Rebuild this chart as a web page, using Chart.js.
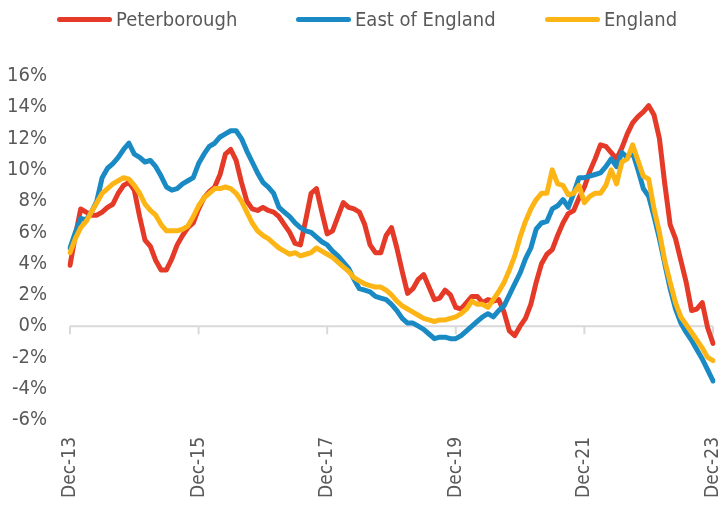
<!DOCTYPE html>
<html>
<head>
<meta charset="utf-8">
<script src="https://cdn.jsdelivr.net/npm/chart.js@4.4.1/dist/chart.umd.min.js"></script>
<style>
  html, body { margin: 0; padding: 0; background: #fff; }
  #wrap { position: relative; width: 723px; height: 506px; }
  #hpiChart { position: absolute; left: 0; top: 0; }
  .key { position: absolute; top: 6px; height: 26px; display: flex; align-items: center;
         font: 20px 'DejaVu Sans Condensed', 'DejaVu Sans', sans-serif; color: #595959; }
  .key i { display: inline-block; width: 55px; height: 5px; border-radius: 3px; margin-right: 4px; }
</style>
</head>
<body>
<div id="wrap">
  <canvas id="hpiChart"></canvas>
  <div id="legend"></div>
</div>
<script>
// ---------------------------
// DATA (annual % change, monthly, Dec-13 .. Dec-23)
// ---------------------------
const monthNames = ["Jan","Feb","Mar","Apr","May","Jun","Jul","Aug","Sep","Oct","Nov","Dec"];
const firstYear = 13;
const lastYear = 23;

const tickLabels = ["Dec-13", "Dec-15", "Dec-17", "Dec-19", "Dec-21", "Dec-23"];

const seriesNames = ["Peterborough", "East of England", "England"];
const seriesColors = ["#E63A28", "#1A8AC4", "#FDB516"];

const peterborough = [
  3.9, 5.8, 7.5, 7.3, 7.1, 7.1, 7.3, 7.6, 7.8, 8.5, 9.0, 9.2,
  8.7, 7.0, 5.5, 5.1, 4.2, 3.6, 3.6, 4.3, 5.2, 5.8, 6.3, 6.6,
  7.5, 8.2, 8.6, 8.9, 9.7, 11.0, 11.3, 10.6, 9.2, 8.0, 7.5, 7.4,
  7.6, 7.4, 7.3, 7.0, 6.5, 6.0, 5.3, 5.2, 6.8, 8.5, 8.8, 7.3,
  5.9, 6.1, 7.0, 7.9, 7.6, 7.5, 7.3, 6.5, 5.2, 4.7, 4.7, 5.8,
  6.3, 5.0, 3.5, 2.1, 2.4, 3.0, 3.3, 2.5, 1.7, 1.8, 2.3, 2.0,
  1.2, 1.1, 1.5, 1.9, 1.9, 1.5, 1.7, 1.6, 1.7, 0.9, -0.3, -0.6,
  0.0, 0.5, 1.4, 2.8, 4.0, 4.6, 4.9, 5.8, 6.6, 7.2, 7.4, 8.2,
  8.9, 9.9, 10.7, 11.6, 11.5, 11.1, 10.7, 11.4, 12.3, 13.0, 13.4, 13.7,
  14.1, 13.5, 12.0, 9.1, 6.5, 5.6, 4.2, 2.8, 1.0, 1.1, 1.5, -0.1,
  -1.1
];

const eastOfEngland = [
  5.0, 6.0, 6.9, 6.8, 7.3, 8.0, 9.5, 10.1, 10.4, 10.8, 11.3, 11.7,
  11.0, 10.8, 10.5, 10.6, 10.2, 9.6, 8.9, 8.7, 8.8, 9.1, 9.3, 9.5,
  10.4, 11.0, 11.5, 11.7, 12.1, 12.3, 12.5, 12.5, 12.0, 11.2, 10.5, 9.8,
  9.2, 8.9, 8.5, 7.6, 7.3, 7.0, 6.6, 6.3, 6.1, 6.0, 5.7, 5.4,
  5.2, 4.8, 4.5, 4.1, 3.7, 3.0, 2.4, 2.3, 2.2, 1.9, 1.8, 1.7,
  1.4, 1.0, 0.5, 0.2, 0.2, 0.0, -0.2, -0.5, -0.8, -0.7, -0.7, -0.8,
  -0.8, -0.6, -0.3, 0.0, 0.3, 0.6, 0.8, 0.6, 1.0, 1.3, 2.0, 2.7,
  3.4, 4.3, 5.0, 6.2, 6.6, 6.7, 7.5, 7.7, 8.1, 7.6, 8.5, 9.5,
  9.5, 9.6, 9.7, 9.8, 10.2, 10.7, 10.2, 11.1, 10.8, 11.1, 10.0, 8.8,
  8.3, 7.0, 5.6, 4.0, 2.4, 1.1, 0.2, -0.4, -0.9, -1.5, -2.1, -2.8,
  -3.5
];

const england = [
  4.7, 5.6, 6.3, 6.7, 7.3, 7.9, 8.5, 8.8, 9.1, 9.3, 9.5, 9.4,
  9.0, 8.5, 7.8, 7.4, 7.1, 6.5, 6.1, 6.1, 6.1, 6.2, 6.4, 7.0,
  7.7, 8.2, 8.5, 8.8, 8.8, 8.9, 8.8, 8.5, 8.0, 7.3, 6.6, 6.1,
  5.8, 5.6, 5.3, 5.0, 4.8, 4.6, 4.7, 4.5, 4.6, 4.7, 5.0, 4.8,
  4.6, 4.4, 4.1, 3.8, 3.5, 3.1, 2.9, 2.7, 2.6, 2.5, 2.5, 2.3,
  2.0, 1.6, 1.3, 1.1, 0.9, 0.7, 0.5, 0.4, 0.3, 0.4, 0.4, 0.5,
  0.6, 0.8, 1.1, 1.6, 1.4, 1.4, 1.2, 1.7, 2.2, 2.8, 3.6, 4.5,
  5.7, 6.7, 7.5, 8.1, 8.5, 8.5, 10.0, 9.1, 9.0, 8.4, 8.5, 9.0,
  7.9, 8.3, 8.5, 8.5, 9.0, 10.0, 9.1, 10.5, 10.7, 11.6, 10.6, 9.6,
  9.4, 7.5, 6.0, 4.2, 2.8, 1.5, 0.6, 0.1, -0.4, -0.9, -1.4, -2.0,
  -2.2
];

// month labels Dec-13 .. Dec-23
let months = [];
for (let yr = firstYear; yr <= lastYear; yr++) {
  monthNames.forEach((m, k) => {
    if (yr === firstYear && k < 11) return;
    months.push(m + "-" + yr);
  });
}
months = months.slice(0, months.indexOf("Dec-" + lastYear) + 1);

const FONT = "'DejaVu Sans Condensed', 'DejaVu Sans', sans-serif";
const GREY = "#595959";

// ---------------------------
// LEGEND (html, above the plot)
// ---------------------------
const legendLeft = [57, 296, 545];
seriesNames.forEach((name, k) => {
  let el = document.createElement("div");
  el.className = "key";
  el.style.left = legendLeft[k] + "px";
  el.innerHTML = '<i style="background:' + seriesColors[k] + '"></i>' + name;
  document.getElementById("legend").appendChild(el);
});

// zero line with small tick marks (Excel style axis crossing at 0)
const zeroAxis = {
  id: "zeroAxis",
  beforeDatasetsDraw(chart) {
    const { ctx, chartArea, scales: { x, y } } = chart;
    const y0 = y.getPixelForValue(0);
    ctx.save();
    ctx.strokeStyle = "#D9D9D9";
    ctx.lineWidth = 2;
    ctx.beginPath();
    ctx.moveTo(chartArea.left, y0);
    ctx.lineTo(chartArea.right, y0);
    tickLabels.forEach(lbl => {
      const px = x.getPixelForValue(months.indexOf(lbl));
      ctx.moveTo(px, y0);
      ctx.lineTo(px, y0 + 8);
    });
    ctx.stroke();
    ctx.restore();
  }
};

function makeSet(k, data, order) {
  return {
    label: seriesNames[k],
    data: data,
    borderColor: seriesColors[k],
    backgroundColor: seriesColors[k],
    borderWidth: 5,
    borderCapStyle: "round",
    borderJoinStyle: "round",
    pointRadius: 0,
    tension: 0,
    order: order
  };
}

new Chart(document.getElementById("hpiChart"), {
  type: "line",
  data: {
    labels: months,
    datasets: [
      makeSet(0, peterborough, 3),
      makeSet(1, eastOfEngland, 2),
      makeSet(2, england, 1)
    ]
  },
  options: {
    responsive: true,
    maintainAspectRatio: false,
    animation: false,
    layout: { padding: { left: 0, right: 10, top: 76, bottom: 0 } },
    plugins: {
      tooltip: { enabled: false },
      legend: { display: false }
    },
    scales: {
      x: {
        grid: { display: false, drawTicks: false },
        border: { display: false },
        afterFit: s => { s.height = 86; s.paddingLeft = 0; s.paddingRight = 0; },
        ticks: {
          autoSkip: false,
          minRotation: 90,
          maxRotation: 90,
          padding: 17,
          color: GREY,
          font: { family: FONT, size: 19 },
          callback: (v, i) => tickLabels.includes(months[i]) ? months[i] : ""
        }
      },
      y: {
        min: -6,
        max: 16,
        grid: { display: false, drawTicks: false },
        border: { display: false },
        afterFit: s => { s.width = 70; s.paddingTop = 0; s.paddingBottom = 0; },
        ticks: {
          stepSize: 2,
          autoSkip: false,
          padding: 23,
          color: GREY,
          font: { family: FONT, size: 20 },
          callback: v => v + "%"
        }
      }
    }
  },
  plugins: [zeroAxis]
});
</script>
</body>
</html>
